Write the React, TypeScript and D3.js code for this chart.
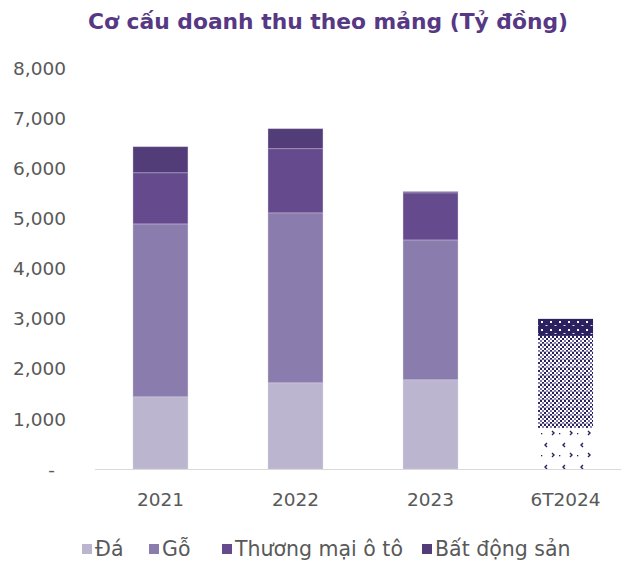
import React, { FC, useMemo } from 'react'
import * as d3 from 'd3'

const categories = ['2021', '2022', '2023', '6T2024']
const daValues = [1440, 1720, 1780, 820]
const goValues = [3450, 3390, 2790, 1250]
const otoValues = [1020, 1280, 940, 585]
const bdsValues = [520, 400, 25, 340]
const seriesNames = ['Đá', 'Gỗ', 'Thương mại ô tô', 'Bất động sản']
const yTicks = [0, 1000, 2000, 3000, 4000, 5000, 6000, 7000, 8000]

const keys = ['da', 'go', 'oto', 'bds']
const colors = ['#bcb5cf', '#8a7dad', '#654a8e', '#523d78']
const patterns = ['patDa', 'patGo', 'patGo', 'patBds']

const W = 628
const H = 564
const font = '"DejaVu Sans", "Open Sans", sans-serif'

const App: FC = () => {
	const rows = useMemo(
		() =>
			categories.map((c, i) => ({
				cat: c,
				da: daValues[i],
				go: goValues[i],
				oto: otoValues[i],
				bds: bdsValues[i]
			})),
		[]
	)

	const stacked = useMemo(() => d3.stack<any>().keys(keys)(rows), [rows])

	const x = d3.scaleBand().domain(categories).range([93, 633]).paddingInner(0.593).paddingOuter(0.296)
	const y = d3.scaleLinear().domain([0, 8000]).range([469, 68])
	const fmt = d3.format(',')

	return (
		<svg width={W} height={H} style={{ position: 'absolute', left: 0, top: 0 }}>
			<defs>
				<pattern id="patBds" width="9" height="8" patternUnits="userSpaceOnUse">
					<rect width="9" height="8" fill="#2b2160" />
					<rect x="1" y="1" width="2" height="2" fill="#fff" />
					<rect x="5.5" y="5" width="2" height="1" fill="#e8e6f0" />
				</pattern>
				<pattern id="patGo" width="8" height="8" patternUnits="userSpaceOnUse">
					<rect width="8" height="8" fill="#fff" />
					<rect x="0" y="0" width="2" height="2" fill="#2b2160" />
					<rect x="4" y="0" width="2" height="2" fill="#2b2160" />
					<rect x="2" y="2" width="2" height="2" fill="#2b2160" />
					<rect x="6" y="2" width="2" height="2" fill="#7d78a3" />
					<rect x="0" y="4" width="2" height="2" fill="#2b2160" />
					<rect x="4" y="4" width="2" height="2" fill="#7d78a3" />
					<rect x="2" y="6" width="2" height="2" fill="#7d78a3" />
					<rect x="6" y="6" width="2" height="2" fill="#2b2160" />
					<rect x="0" y="7" width="8" height="1" fill="#8f8ab0" opacity="0.6" />
				</pattern>
				<pattern id="patDa" width="18" height="22" patternUnits="userSpaceOnUse">
					<rect width="18" height="22" fill="#fff" />
					<path d="M7,3 L5,5 L7,7" stroke="#2b2160" strokeWidth="1.4" fill="none" />
					<path d="M12,13 L14,15 L12,17" stroke="#2b2160" strokeWidth="1.4" fill="none" />
					<rect x="1" y="15" width="1.3" height="1.3" fill="#2b2160" />
				</pattern>
			</defs>

			<text
				x={328}
				y={29}
				textAnchor="middle"
				fontFamily={font}
				fontWeight={700}
				fontSize={21.8}
				fill="#573884"
			>
				Cơ cấu doanh thu theo mảng (Tỷ đồng)
			</text>

			{/* y axis labels */}
			<g fontFamily={font} fontSize={18.5} fill="#595959">
				{yTicks.map(t => (
					<text key={t} x={t === 0 ? 55 : 66} y={y(t)} dy="0.36em" textAnchor="end">
						{t === 0 ? '-' : fmt(t)}
					</text>
				))}
			</g>

			{/* bars */}
			{stacked.map((s, si) => (
				<g key={s.key}>
					{s.map((d, i) => {
						const last = i === categories.length - 1
						const h = y(d[0]) - y(d[1])
						if (h <= 0) return null
						return (
							<rect
								key={i}
								x={x(categories[i])}
								y={y(d[1])}
								width={x.bandwidth()}
								height={h}
								fill={last ? `url(#${patterns[si]})` : colors[si]}
								stroke={last ? 'none' : 'rgba(220,214,236,0.45)'}
								strokeWidth={0.8}
							/>
						)
					})}
				</g>
			))}

			<line x1={95} x2={621} y1={469.5} y2={469.5} stroke="#d9d9d9" strokeWidth={1.2} />

			{/* x labels */}
			<g fontFamily={font} fontSize={18.5} fill="#595959">
				{categories.map(c => (
					<text key={c} x={(x(c) || 0) + x.bandwidth() / 2} y={506} textAnchor="middle">
						{c}
					</text>
				))}
			</g>

			{/* legend */}
			<g fontFamily={font} fontSize={20.5} fill="#595959">
				{seriesNames.map((n, i) => {
					const lx = [82, 149, 222, 422][i]
					return (
						<g key={n} transform={`translate(${lx}, 0)`}>
							<rect x={0} y={544} width={10} height={10} fill={colors[i]} />
							<text x={13} y={556}>
								{n}
							</text>
						</g>
					)
				})}
			</g>
		</svg>
	)
}

export default App
